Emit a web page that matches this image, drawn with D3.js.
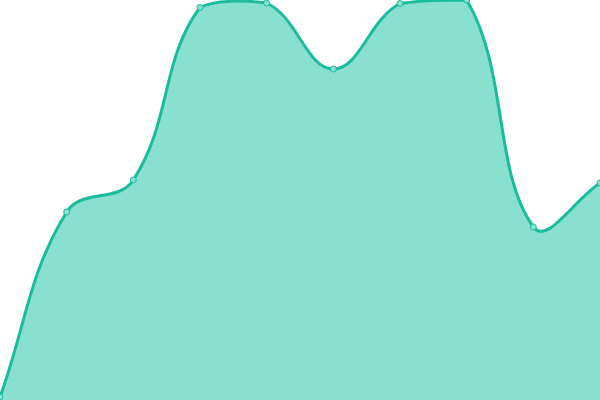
<!DOCTYPE html>
<html><head><meta charset="utf-8">
<script src="https://cdn.jsdelivr.net/npm/d3@7"></script>
<style>html,body{margin:0;padding:0;background:#fff;}svg{display:block;}</style>
</head><body>
<svg id="c" width="600" height="400"></svg>
<script>
const categories = ["A","B","C","D","E","F","G","H","I","J"];
const values = [3, 188, 220, 392.5, 397, 331, 396.5, 400, 173, 217];
const yMax = 400;

const W = 600, H = 400;
const svg = d3.select("#c");
const x = d3.scalePoint().domain(categories).range([0, W]);
const y = d3.scaleLinear().domain([0, yMax]).range([H, 0]);
const pts = categories.map((c,i)=>({x: x(c), y: y(values[i])}));

// spline with tension 0.4, control points capped to the plot area
const tension = 0.4;
const clampX = v => Math.max(0, Math.min(W, v));
const clampY = v => Math.max(0, Math.min(H, v));
pts.forEach((p,i)=>{
  const prev = pts[i-1] || p, next = pts[i+1] || p;
  const d01 = Math.hypot(p.x-prev.x, p.y-prev.y);
  const d12 = Math.hypot(next.x-p.x, next.y-p.y);
  let s01 = d01/(d01+d12), s12 = d12/(d01+d12);
  if (isNaN(s01)) s01 = 0; if (isNaN(s12)) s12 = 0;
  const fa = tension*s01, fb = tension*s12;
  p.cpPrev = [clampX(p.x - fa*(next.x-prev.x)), clampY(p.y - fa*(next.y-prev.y))];
  p.cpNext = [clampX(p.x + fb*(next.x-prev.x)), clampY(p.y + fb*(next.y-prev.y))];
});
function linePath(ctx){
  ctx.moveTo(pts[0].x, pts[0].y);
  for (let i=1;i<pts.length;i++){
    const a = pts[i-1], b = pts[i];
    ctx.bezierCurveTo(a.cpNext[0], a.cpNext[1], b.cpPrev[0], b.cpPrev[1], b.x, b.y);
  }
  return ctx;
}
const lp = linePath(d3.path());
const ap = linePath(d3.path());
ap.lineTo(pts[pts.length-1].x, y(0));
ap.lineTo(pts[0].x, y(0));
ap.closePath();

svg.append("path").attr("fill", "#8ae0cf").attr("d", ap.toString());
svg.append("path").attr("fill", "none").attr("stroke", "#1abc9c").attr("stroke-width", 3)
  .attr("d", lp.toString());
svg.selectAll("circle").data(pts).join("circle")
  .attr("cx", d=>d.x).attr("cy", d=>d.y).attr("r", 3)
  .attr("fill", "#8ae0cf").attr("stroke", "#1abc9c").attr("stroke-width", 1);
</script>
</body></html>
